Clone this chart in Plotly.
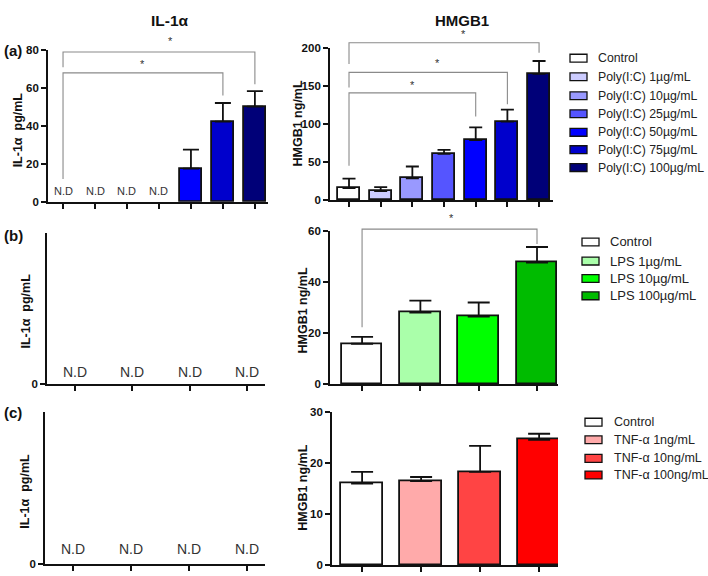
import plotly.graph_objects as go

W, H = 708, 576
FONT = "Liberation Sans, Arial, sans-serif"

# ---------------- data ----------------
poly_labels = ["Control", "Poly(I:C) 1µg/mL", "Poly(I:C) 10µg/mL", "Poly(I:C) 25µg/mL",
               "Poly(I:C) 50µg/mL", "Poly(I:C) 75µg/mL", "Poly(I:C) 100µg/mL"]
poly_colors = ["#ffffff", "#ccccff", "#9999ff", "#5555ff", "#0000ff", "#0000cc", "#000078"]
il1a_poly = [None, None, None, None, 17.5, 42.3, 50.2]
il1a_poly_err = [None, None, None, None, 10.0, 9.8, 8.2]
hmgb1_poly = [15.5, 11.6, 28.4, 60.6, 78.7, 103.0, 166.0]
hmgb1_poly_err = [12.5, 5.2, 15.6, 5.4, 16.8, 16.0, 17.0]

lps_labels = ["Control", "LPS 1µg/mL", "LPS 10µg/mL", "LPS 100µg/mL"]
lps_colors = ["#ffffff", "#aaffaa", "#00ff00", "#00bb00"]
il1a_lps = [None, None, None, None]
hmgb1_lps = [15.8, 28.0, 26.5, 47.7]
hmgb1_lps_err = [2.7, 4.7, 5.5, 6.1]

tnf_labels = ["Control", "TNF-α 1ng/mL", "TNF-α 10ng/mL", "TNF-α 100ng/mL"]
tnf_colors = ["#ffffff", "#ffaaaa", "#ff4444", "#ff0000"]
il1a_tnf = [None, None, None, None]
hmgb1_tnf = [16.0, 16.5, 18.3, 24.6]
hmgb1_tnf_err = [2.3, 0.8, 5.1, 1.2]

# significance brackets: (panel, i, j, bracket_y, left_end, right_end, star_x, star_y)
brackets = [
    ("aL", 0, 5, 68, 12, 56, 2.5, 72.5),
    ("aL", 0, 6, 79, 71, 62, 3.35, 85),
    ("aR", 0, 4, 141, 45, 110, 2.02, 152),
    ("aR", 0, 5, 168, 148, 126, 2.78, 181),
    ("aR", 0, 6, 207, 179, 194, 3.6, 218),
    ("bR", 0, 3, 60.8, 22.3, 55, 1.54, 65),
]

# ---------------- layout geometry (pixels) ----------------
panels = {
    "aL": dict(ax="", xdom=(48, 268), ydom=(45, 200), xr=(-0.47, 6.41), yr=(0, 80),
               tv=[0, 20, 40, 60, 80], n=7),
    "aR": dict(ax="2", xdom=(330, 553), ydom=(43, 198), xr=(-0.6, 6.44), yr=(0, 200),
               tv=[0, 50, 100, 150, 200], n=7),
    "bL": dict(ax="3", xdom=(47, 265), ydom=(232, 386), xr=(-0.49, 3.31), yr=(0, 1),
               tv=[0], n=4),
    "bR": dict(ax="4", xdom=(330, 558), ydom=(230, 386), xr=(-0.55, 3.36), yr=(0, 60),
               tv=[0, 20, 40, 60], n=4),
    "cL": dict(ax="5", xdom=(45, 265), ydom=(415, 570), xr=(-0.49, 3.31), yr=(0, 1),
               tv=[0], n=4),
    "cR": dict(ax="6", xdom=(332, 558), ydom=(415, 571), xr=(-0.51, 3.32), yr=(0, 30),
               tv=[0, 10, 20, 30], n=4),
}


def px(x):
    return x / W


def py(y):
    return 1 - y / H


def to_paper(p, x, y):
    c = panels[p]
    x0, x1 = c["xdom"]
    r0, r1 = c["xr"]
    top, bot = c["ydom"]
    s0, s1 = c["yr"]
    X = x0 + (x - r0) / (r1 - r0) * (x1 - x0)
    Y = bot - (y - s0) / (s1 - s0) * (bot - top)
    return px(X), py(Y)


fig = go.Figure()


def add_bars(p, vals, errs, colors, capw):
    c = panels[p]
    n = len(vals)
    kw = {}
    if errs is not None:
        kw["error_y"] = dict(type="data", symmetric=False, array=errs,
                             arrayminus=[0] * n, color="#111111",
                             thickness=1.8, width=capw)
    fig.add_trace(go.Bar(
        x=list(range(n)), y=vals, width=0.7,
        marker=dict(color=colors, line=dict(color="#111111", width=1.8)),
        xaxis="x" + c["ax"], yaxis="y" + c["ax"], showlegend=False,
        hoverinfo="skip", **kw))


add_bars("aL", il1a_poly, il1a_poly_err, poly_colors, 8)
add_bars("aR", hmgb1_poly, hmgb1_poly_err, poly_colors, 6.5)
add_bars("bL", il1a_lps, None, lps_colors, 10)
add_bars("bR", hmgb1_lps, hmgb1_lps_err, lps_colors, 11)
add_bars("cL", il1a_tnf, None, tnf_colors, 10)
add_bars("cR", hmgb1_tnf, hmgb1_tnf_err, tnf_colors, 11)

layout = dict(width=W, height=H, autosize=False, margin=dict(l=0, r=0, t=0, b=0, pad=0),
              paper_bgcolor="white", plot_bgcolor="white",
              font=dict(family=FONT, color="#111111"), bargap=0)

for p, c in panels.items():
    xa = "xaxis" + c["ax"]
    ya = "yaxis" + c["ax"]
    layout[xa] = dict(domain=[px(c["xdom"][0]), px(c["xdom"][1])], range=list(c["xr"]),
                      anchor="y" + c["ax"], showline=True, linecolor="#111111", linewidth=1.8,
                      ticks="outside", ticklen=5, tickwidth=1.6, tickcolor="#111111",
                      tickvals=list(range(c["n"])), showticklabels=False,
                      showgrid=False, zeroline=False, fixedrange=True)
    layout[ya] = dict(domain=[py(c["ydom"][1]), py(c["ydom"][0])], range=list(c["yr"]),
                      anchor="x" + c["ax"], showline=True, linecolor="#111111", linewidth=1.8,
                      ticks="outside", ticklen=5, tickwidth=1.6, tickcolor="#111111",
                      tickvals=c["tv"], ticktext=[str(v) for v in c["tv"]],
                      tickfont=dict(size=11.5, family=FONT, weight="bold", color="#111111"),
                      showgrid=False, zeroline=False, fixedrange=True)

fig.update_layout(**layout)

annotations = []
shapes = []


def note(text, x, y, size, color="#111", xanchor="center", angle=0):
    annotations.append(dict(text=text, x=px(x), y=py(y), xref="paper", yref="paper",
                            xanchor=xanchor, yanchor="middle", textangle=angle,
                            showarrow=False, font=dict(size=size, family=FONT, color=color)))


# titles & panel labels
note("<b>IL-1α</b>", 170, 15, 15.5)
note("<b>HMGB1</b>", 462, 15, 15)
for lab, yy in [("(a)", 45), ("(b)", 234), ("(c)", 415)]:
    note("<b>" + lab + "</b>", 2, yy, 15, xanchor="left")

# y-axis titles
for txt, xx, yy in [("IL-1α  pg/mL", 18, 127), ("HMGB1 ng/mL", 297, 120),
                    ("IL-1α  pg/mL", 25, 312), ("HMGB1 ng/mL", 303, 311),
                    ("IL-1α  pg/mL", 25, 496), ("HMGB1 ng/mL", 303, 492)]:
    note("<b>" + txt + "</b>", xx, yy, 12.5, angle=-90)

# N.D labels
for p, vals, fs, ys in [("aL", il1a_poly, 11, 3), ("bL", il1a_lps, 14, 2), ("cL", il1a_tnf, 14, 5)]:
    c = panels[p]
    for i, v in enumerate(vals):
        if v is None:
            annotations.append(dict(text="N.D", x=i, y=0, xref="x" + c["ax"], yref="y" + c["ax"],
                                    xanchor="center", yanchor="bottom", yshift=ys, showarrow=False,
                                    font=dict(size=fs, family=FONT, color="#333")))

# significance brackets
for p, i, j, yb, yl, yr, sx, sy in brackets:
    xi, ybp = to_paper(p, i, yb)
    xj, _ = to_paper(p, j, yb)
    _, ylp = to_paper(p, i, yl)
    _, yrp = to_paper(p, j, yr)
    shapes.append(dict(type="path", xref="paper", yref="paper",
                       path=f"M {xi},{ylp} L {xi},{ybp} L {xj},{ybp} L {xj},{yrp}",
                       line=dict(color="#8a8a8a", width=1.1)))
    sxp, syp = to_paper(p, sx, sy)
    annotations.append(dict(text="*", x=sxp, y=syp, xref="paper", yref="paper",
                            xanchor="center", yanchor="middle",
                            showarrow=False, font=dict(size=11, family=FONT, color="#333")))


# legends
def add_legend(labels, colors, box_x, text_x, ys, fs):
    for lab, col, yy in zip(labels, colors, ys):
        shapes.append(dict(type="rect", xref="paper", yref="paper",
                           x0=px(box_x), x1=px(box_x + 17), y0=py(yy + 4), y1=py(yy - 4),
                           fillcolor=col, line=dict(color="#111", width=1.3)))
        note(lab, text_x, yy, fs, color="#222", xanchor="left")


add_legend(poly_labels, poly_colors, 570, 596, [53.3, 72.3, 91.7, 110, 129, 146.7, 165], 12.3)
add_legend(lps_labels, lps_colors, 582, 608, [241, 260.5, 278.3, 296], 13)
add_legend(tnf_labels, tnf_colors, 585, 612, [425, 443, 462, 479], 12.5)

fig.update_layout(annotations=annotations, shapes=shapes)
fig.write_html("out.html", config={"displayModeBar": False},
               post_script="document.body.style.margin='0';document.body.style.overflow='hidden';")
